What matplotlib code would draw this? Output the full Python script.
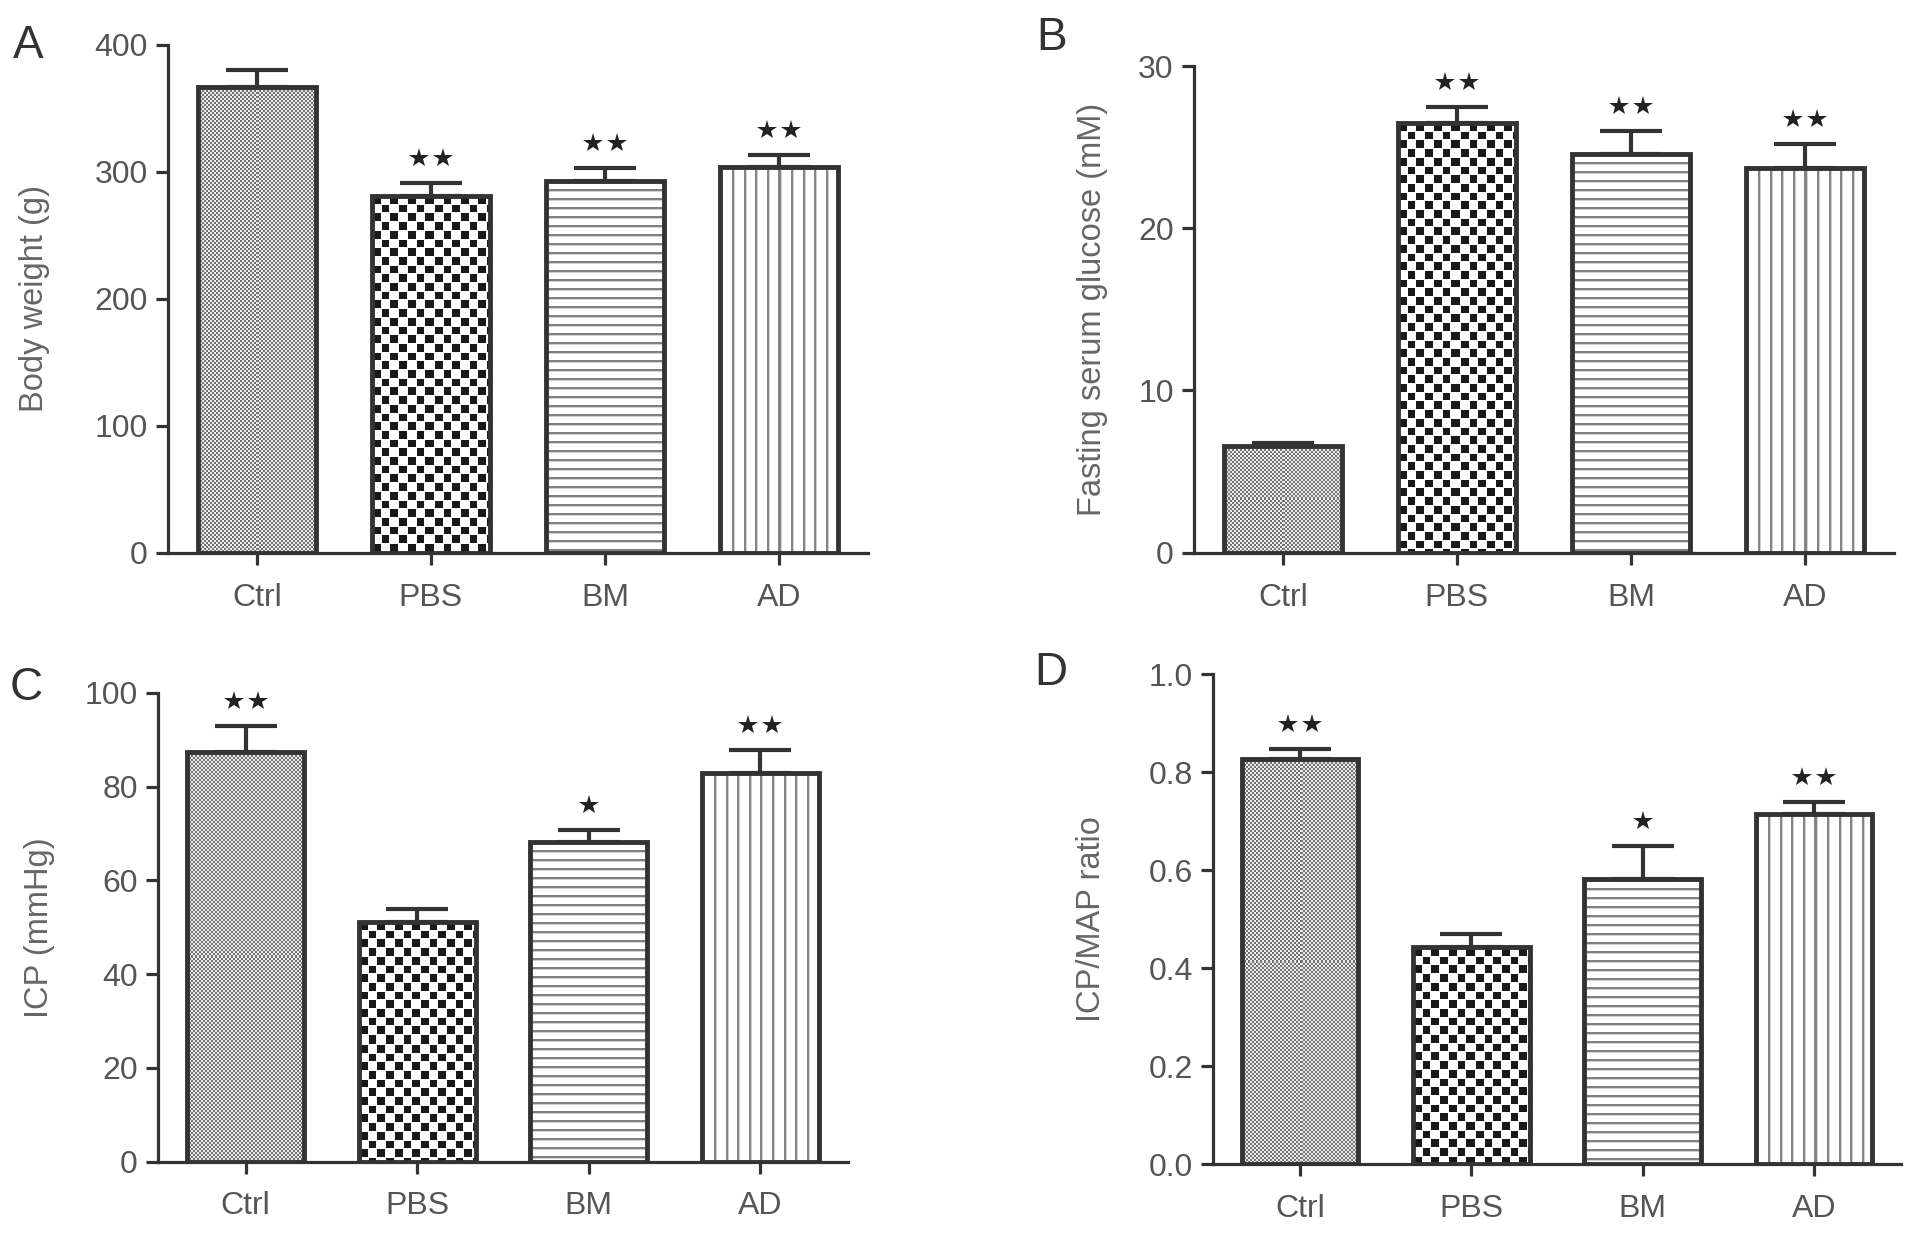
import numpy as np
import matplotlib
matplotlib.use('Agg')
import matplotlib.pyplot as plt
from matplotlib.transforms import offset_copy

plt.rcParams['font.family'] = ['Liberation Sans', 'DejaVu Sans']

W, H, DPI = 1913, 1233, 100

# ---------------- data ----------------
groups = ['Ctrl', 'PBS', 'BM', 'AD']

bw_mean = [367, 281, 293, 304]
bw_err = [13, 10, 10, 9.5]
bw_sig = ['', '**', '**', '**']
bw_ticks = [0, 100, 200, 300, 400]

glu_mean = [6.55, 26.5, 24.6, 23.7]
glu_err = [0.22, 1.0, 1.4, 1.5]
glu_sig = ['', '**', '**', '**']
glu_ticks = [0, 10, 20, 30]

icp_mean = [87.4, 51.1, 68.3, 82.9]
icp_err = [5.5, 2.8, 2.4, 4.9]
icp_sig = ['**', '', '*', '**']
icp_ticks = [0, 20, 40, 60, 80, 100]

ratio_mean = [0.827, 0.442, 0.581, 0.715]
ratio_err = [0.020, 0.028, 0.068, 0.024]
ratio_sig = ['**', '', '*', '**']
ratio_ticks = [0.0, 0.2, 0.4, 0.6, 0.8, 1.0]
ratio_ticklabels = ['0.0', '0.2', '0.4', '0.6', '0.8', '1.0']

patterns = ['fine', 'checker', 'hlines', 'vlines']

EDGE = '#333333'
TXT = '#555555'


def texture(kind, nx, ny):
    jj, ii = np.meshgrid(np.arange(nx), np.arange(ny))
    if kind == 'fine':
        dark = ((ii // 2 + jj // 2) % 2 == 0)
        img = np.where(dark, 0.45, 0.92)
    elif kind == 'checker':
        c = 8.7
        ci = np.floor(ii / c)
        cj = np.floor(jj / c)
        fi = ii - ci * c
        fj = jj - cj * c
        dark = ((ci + cj) % 2 == 0) & (fi >= 0.6) & (fi < c - 0.4) & (fj >= 0.6) & (fj < c - 0.4)
        img = np.where(dark, 0.1, 1.0)
    elif kind == 'hlines':
        p = ii % 9
        img = np.where(p < 2, 0.50, np.where(p == 2, 0.82, 1.0))
    else:
        p = np.mod(jj, 11.6)
        img = np.where(p < 2, 0.52, np.where(p < 3, 0.82, 1.0))
    return img


fig = plt.figure(figsize=(W / DPI, H / DPI), dpi=DPI)


def make_panel(rect_px, means, errs, sigs, ticks, ylabel, ymax, letter, letter_xy,
               label_off, ticklabels=None):
    l, t, r, b = rect_px
    ax = fig.add_axes([l / W, 1 - b / H, (r - l) / W, (b - t) / H])
    ax.set_xlim(-0.51, 3.51)
    ax.set_ylim(0, ymax)
    x = np.arange(len(groups))
    bars = ax.bar(x, means, width=0.68, facecolor='none', edgecolor=EDGE,
                  linewidth=3.5, zorder=3)
    for bar, kind in zip(bars, patterns):
        x0, y0 = bar.get_x(), bar.get_y()
        x1, y1 = x0 + bar.get_width(), y0 + bar.get_height()
        (px0, py0), (px1, py1) = ax.transData.transform([(x0, y0), (x1, y1)])
        nx = max(int(round(px1 - px0)), 1)
        ny = max(int(round(py1 - py0)), 1)
        im = ax.imshow(texture(kind, nx, ny), cmap='gray', vmin=0, vmax=1,
                       interpolation='nearest', extent=(x0, x1, y0, y1),
                       origin='upper', aspect='auto', zorder=2)
        im.set_clip_path(bar)
    ax.set_xlim(-0.51, 3.51)
    ax.set_ylim(0, ymax)
    ax.errorbar(x, means, yerr=[np.zeros(len(errs)), errs], fmt='none',
                ecolor=EDGE, elinewidth=3.0, capsize=22, capthick=3.0, zorder=4)
    for i, s in enumerate(sigs):
        n = len(s)
        for k in range(n):
            dx = (k - (n - 1) / 2) * 24
            tr = offset_copy(ax.transData, fig=fig, x=dx, y=25, units='dots')
            ax.plot([x[i]], [means[i] + errs[i]], marker='*', ms=15, color='#222222',
                    mew=0, linestyle='none', transform=tr, clip_on=False, zorder=5)
    for sp in ['top', 'right']:
        ax.spines[sp].set_visible(False)
    for sp in ['left', 'bottom']:
        ax.spines[sp].set_color(EDGE)
        ax.spines[sp].set_linewidth(2.3)
    ax.set_xticks(x)
    ax.set_xticklabels(groups)
    ax.set_yticks(ticks)
    if ticklabels is not None:
        ax.set_yticklabels(ticklabels)
    ax.tick_params(axis='both', direction='out', length=8.6, width=2.3, color=EDGE,
                   labelsize=23, labelcolor=TXT, pad=6)
    ax.tick_params(axis='x', pad=13)
    ax.set_ylabel(ylabel, fontsize=23.5, color='#666666', va='center')
    ax.yaxis.set_label_coords(-label_off / (r - l), 0.5)
    fig.text(letter_xy[0] / W, 1 - letter_xy[1] / H, letter, fontsize=33,
             color='#333333', ha='left', va='baseline')
    return ax


make_panel((168, 45, 868, 552.5), bw_mean, bw_err, bw_sig, bw_ticks,
           'Body weight (g)', 400, 'A', (13, 58), 133)
make_panel((1194, 66, 1894, 552.5), glu_mean, glu_err, glu_sig, glu_ticks,
           'Fasting serum glucose (mM)', 30, 'B', (1036, 50), 101)
make_panel((158, 693, 848, 1161.5), icp_mean, icp_err, icp_sig, icp_ticks,
           'ICP (mmHg)', 100, 'C', (10, 700), 118)
make_panel((1213, 674, 1901, 1164), ratio_mean, ratio_err, ratio_sig, ratio_ticks,
           'ICP/MAP ratio', 1.0, 'D', (1034, 685), 121, ratio_ticklabels)

fig.savefig('out.png', dpi=DPI)
